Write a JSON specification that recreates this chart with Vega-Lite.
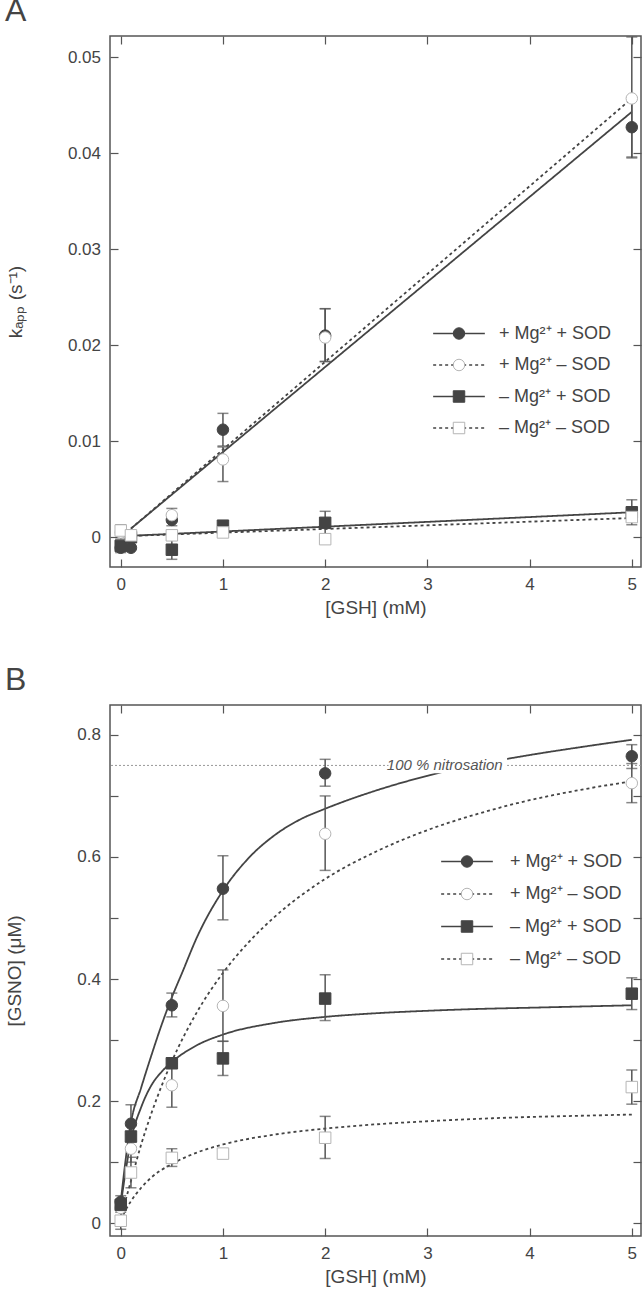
{
  "$schema": "https://vega.github.io/schema/vega-lite/v6.json",
  "background": "white",
  "padding": {"left": 4, "top": -6, "right": 2, "bottom": 4},
  "spacing": 45,
  "resolve": {
    "scale": {"strokeDash": "independent", "shape": "independent", "fill": "independent", "stroke": "independent"},
    "legend": {"strokeDash": "independent", "shape": "independent", "fill": "independent", "stroke": "independent"}
  },
  "config": {
    "font": "Liberation Sans",
    "view": {"stroke": "#555", "strokeWidth": 1.5},
    "axis": {"grid": false, "domain": false, "minExtent": 0, "tickColor": "#555", "tickWidth": 1.2, "tickSize": -8, "labelFontSize": 17, "labelColor": "#444", "titleFontSize": 19, "titleFontWeight": "normal", "titleColor": "#444", "labelFont": "Liberation Sans", "titleFont": "Liberation Sans"},
    "legend": {"labelFont": "Liberation Sans", "labelColor": "#444", "labelFontSize": 18}
  },
  "datasets": {
    "ptsA": [
      {"series": "+ Mg²⁺ + SOD", "x": 0, "y": -0.0011, "lo": -0.0016, "hi": -0.0006},
      {"series": "+ Mg²⁺ + SOD", "x": 0.1, "y": -0.0011},
      {"series": "+ Mg²⁺ + SOD", "x": 0.5, "y": 0.0018, "lo": 0.0012, "hi": 0.0024},
      {"series": "+ Mg²⁺ + SOD", "x": 1, "y": 0.0112, "lo": 0.0095, "hi": 0.0129},
      {"series": "+ Mg²⁺ + SOD", "x": 2, "y": 0.021, "lo": 0.0183, "hi": 0.0238},
      {"series": "+ Mg²⁺ + SOD", "x": 5, "y": 0.0427, "lo": 0.0396, "hi": 0.0458},
      {"series": "+ Mg²⁺ – SOD", "x": 0, "y": 0.0005},
      {"series": "+ Mg²⁺ – SOD", "x": 0.1, "y": 0.0001},
      {"series": "+ Mg²⁺ – SOD", "x": 0.5, "y": 0.0023, "lo": 0.0016, "hi": 0.003},
      {"series": "+ Mg²⁺ – SOD", "x": 1, "y": 0.0081, "lo": 0.0058, "hi": 0.0094},
      {"series": "+ Mg²⁺ – SOD", "x": 2, "y": 0.0208, "lo": 0.0183, "hi": 0.0238},
      {"series": "+ Mg²⁺ – SOD", "x": 5, "y": 0.0457, "lo": 0.0395, "hi": 0.0521},
      {"series": "– Mg²⁺ + SOD", "x": 0, "y": -0.0009},
      {"series": "– Mg²⁺ + SOD", "x": 0.1, "y": 0.0},
      {"series": "– Mg²⁺ + SOD", "x": 0.5, "y": -0.0013, "lo": -0.0023, "hi": -0.0003},
      {"series": "– Mg²⁺ + SOD", "x": 1, "y": 0.0012},
      {"series": "– Mg²⁺ + SOD", "x": 2, "y": 0.0015, "lo": 0.0003, "hi": 0.0027},
      {"series": "– Mg²⁺ + SOD", "x": 5, "y": 0.0026, "lo": 0.0013, "hi": 0.0039},
      {"series": "– Mg²⁺ – SOD", "x": 0, "y": 0.0007, "lo": -0.0002, "hi": 0.0013},
      {"series": "– Mg²⁺ – SOD", "x": 0.1, "y": 0.0002},
      {"series": "– Mg²⁺ – SOD", "x": 0.5, "y": 0.0002},
      {"series": "– Mg²⁺ – SOD", "x": 1, "y": 0.0005},
      {"series": "– Mg²⁺ – SOD", "x": 2, "y": -0.0002},
      {"series": "– Mg²⁺ – SOD", "x": 5, "y": 0.0021}
    ],
    "linesA": [
      {"series": "+ Mg²⁺ + SOD", "x": 0.1, "y": 0.0009},
      {"series": "+ Mg²⁺ + SOD", "x": 5, "y": 0.0443},
      {"series": "+ Mg²⁺ – SOD", "x": 0.1, "y": 0.0009},
      {"series": "+ Mg²⁺ – SOD", "x": 5, "y": 0.0457},
      {"series": "– Mg²⁺ + SOD", "x": 0, "y": 0.0001},
      {"series": "– Mg²⁺ + SOD", "x": 5, "y": 0.0026},
      {"series": "– Mg²⁺ – SOD", "x": 0, "y": 0.0001},
      {"series": "– Mg²⁺ – SOD", "x": 5, "y": 0.002}
    ],
    "ptsB": [
      {"series": "+ Mg²⁺ + SOD", "x": 0, "y": 0.035, "lo": 0.025, "hi": 0.045},
      {"series": "+ Mg²⁺ + SOD", "x": 0.1, "y": 0.163, "lo": 0.133, "hi": 0.194},
      {"series": "+ Mg²⁺ + SOD", "x": 0.5, "y": 0.357, "lo": 0.338, "hi": 0.377},
      {"series": "+ Mg²⁺ + SOD", "x": 1, "y": 0.548, "lo": 0.497, "hi": 0.602},
      {"series": "+ Mg²⁺ + SOD", "x": 2, "y": 0.737, "lo": 0.716, "hi": 0.76},
      {"series": "+ Mg²⁺ + SOD", "x": 5, "y": 0.765, "lo": 0.745, "hi": 0.784},
      {"series": "+ Mg²⁺ – SOD", "x": 0, "y": 0.025},
      {"series": "+ Mg²⁺ – SOD", "x": 0.1, "y": 0.122, "lo": 0.1, "hi": 0.145},
      {"series": "+ Mg²⁺ – SOD", "x": 0.5, "y": 0.226, "lo": 0.19, "hi": 0.262},
      {"series": "+ Mg²⁺ – SOD", "x": 1, "y": 0.356, "lo": 0.298, "hi": 0.415},
      {"series": "+ Mg²⁺ – SOD", "x": 2, "y": 0.638, "lo": 0.578, "hi": 0.7},
      {"series": "+ Mg²⁺ – SOD", "x": 5, "y": 0.721, "lo": 0.689, "hi": 0.753},
      {"series": "– Mg²⁺ + SOD", "x": 0, "y": 0.03},
      {"series": "– Mg²⁺ + SOD", "x": 0.1, "y": 0.142, "lo": 0.125, "hi": 0.16},
      {"series": "– Mg²⁺ + SOD", "x": 0.5, "y": 0.262},
      {"series": "– Mg²⁺ + SOD", "x": 1, "y": 0.27, "lo": 0.242, "hi": 0.298},
      {"series": "– Mg²⁺ + SOD", "x": 2, "y": 0.368, "lo": 0.332, "hi": 0.407},
      {"series": "– Mg²⁺ + SOD", "x": 5, "y": 0.376, "lo": 0.35, "hi": 0.402},
      {"series": "– Mg²⁺ – SOD", "x": 0, "y": 0.004, "lo": -0.01, "hi": 0.018},
      {"series": "– Mg²⁺ – SOD", "x": 0.1, "y": 0.083, "lo": 0.058, "hi": 0.108},
      {"series": "– Mg²⁺ – SOD", "x": 0.5, "y": 0.107, "lo": 0.093, "hi": 0.122},
      {"series": "– Mg²⁺ – SOD", "x": 1, "y": 0.114},
      {"series": "– Mg²⁺ – SOD", "x": 2, "y": 0.14, "lo": 0.106, "hi": 0.175},
      {"series": "– Mg²⁺ – SOD", "x": 5, "y": 0.223, "lo": 0.195, "hi": 0.251}
    ],
    "linesB": [
      {"series": "+ Mg²⁺ + SOD", "x": 0, "y": 0.035},
      {"series": "+ Mg²⁺ + SOD", "x": 0.1, "y": 0.165},
      {"series": "+ Mg²⁺ + SOD", "x": 0.2, "y": 0.222},
      {"series": "+ Mg²⁺ + SOD", "x": 0.3, "y": 0.275},
      {"series": "+ Mg²⁺ + SOD", "x": 0.4, "y": 0.325},
      {"series": "+ Mg²⁺ + SOD", "x": 0.5, "y": 0.37},
      {"series": "+ Mg²⁺ + SOD", "x": 0.6, "y": 0.41},
      {"series": "+ Mg²⁺ + SOD", "x": 0.75, "y": 0.47},
      {"series": "+ Mg²⁺ + SOD", "x": 1, "y": 0.545},
      {"series": "+ Mg²⁺ + SOD", "x": 1.25, "y": 0.598},
      {"series": "+ Mg²⁺ + SOD", "x": 1.5, "y": 0.635},
      {"series": "+ Mg²⁺ + SOD", "x": 1.75, "y": 0.661},
      {"series": "+ Mg²⁺ + SOD", "x": 2, "y": 0.679},
      {"series": "+ Mg²⁺ + SOD", "x": 2.5, "y": 0.709},
      {"series": "+ Mg²⁺ + SOD", "x": 3, "y": 0.733},
      {"series": "+ Mg²⁺ + SOD", "x": 3.5, "y": 0.752},
      {"series": "+ Mg²⁺ + SOD", "x": 4, "y": 0.767},
      {"series": "+ Mg²⁺ + SOD", "x": 4.5, "y": 0.78},
      {"series": "+ Mg²⁺ + SOD", "x": 5, "y": 0.792},
      {"series": "+ Mg²⁺ – SOD", "x": 0, "y": 0.01},
      {"series": "+ Mg²⁺ – SOD", "x": 0.1, "y": 0.069},
      {"series": "+ Mg²⁺ – SOD", "x": 0.2, "y": 0.129},
      {"series": "+ Mg²⁺ – SOD", "x": 0.3, "y": 0.18},
      {"series": "+ Mg²⁺ – SOD", "x": 0.4, "y": 0.225},
      {"series": "+ Mg²⁺ – SOD", "x": 0.5, "y": 0.265},
      {"series": "+ Mg²⁺ – SOD", "x": 0.75, "y": 0.347},
      {"series": "+ Mg²⁺ – SOD", "x": 1, "y": 0.41},
      {"series": "+ Mg²⁺ – SOD", "x": 1.25, "y": 0.46},
      {"series": "+ Mg²⁺ – SOD", "x": 1.5, "y": 0.501},
      {"series": "+ Mg²⁺ – SOD", "x": 2, "y": 0.564},
      {"series": "+ Mg²⁺ – SOD", "x": 2.5, "y": 0.609},
      {"series": "+ Mg²⁺ – SOD", "x": 3, "y": 0.644},
      {"series": "+ Mg²⁺ – SOD", "x": 3.5, "y": 0.671},
      {"series": "+ Mg²⁺ – SOD", "x": 4, "y": 0.693},
      {"series": "+ Mg²⁺ – SOD", "x": 4.5, "y": 0.71},
      {"series": "+ Mg²⁺ – SOD", "x": 5, "y": 0.724},
      {"series": "– Mg²⁺ + SOD", "x": 0, "y": 0.03},
      {"series": "– Mg²⁺ + SOD", "x": 0.05, "y": 0.087},
      {"series": "– Mg²⁺ + SOD", "x": 0.1, "y": 0.136},
      {"series": "– Mg²⁺ + SOD", "x": 0.2, "y": 0.19},
      {"series": "– Mg²⁺ + SOD", "x": 0.3, "y": 0.226},
      {"series": "– Mg²⁺ + SOD", "x": 0.4, "y": 0.248},
      {"series": "– Mg²⁺ + SOD", "x": 0.5, "y": 0.264},
      {"series": "– Mg²⁺ + SOD", "x": 0.75, "y": 0.292},
      {"series": "– Mg²⁺ + SOD", "x": 1, "y": 0.309},
      {"series": "– Mg²⁺ + SOD", "x": 1.5, "y": 0.328},
      {"series": "– Mg²⁺ + SOD", "x": 2, "y": 0.338},
      {"series": "– Mg²⁺ + SOD", "x": 2.5, "y": 0.344},
      {"series": "– Mg²⁺ + SOD", "x": 3, "y": 0.348},
      {"series": "– Mg²⁺ + SOD", "x": 3.5, "y": 0.351},
      {"series": "– Mg²⁺ + SOD", "x": 4, "y": 0.353},
      {"series": "– Mg²⁺ + SOD", "x": 4.5, "y": 0.355},
      {"series": "– Mg²⁺ + SOD", "x": 5, "y": 0.357},
      {"series": "– Mg²⁺ – SOD", "x": 0, "y": 0.005},
      {"series": "– Mg²⁺ – SOD", "x": 0.05, "y": 0.022},
      {"series": "– Mg²⁺ – SOD", "x": 0.1, "y": 0.036},
      {"series": "– Mg²⁺ – SOD", "x": 0.2, "y": 0.058},
      {"series": "– Mg²⁺ – SOD", "x": 0.3, "y": 0.075},
      {"series": "– Mg²⁺ – SOD", "x": 0.5, "y": 0.097},
      {"series": "– Mg²⁺ – SOD", "x": 0.75, "y": 0.116},
      {"series": "– Mg²⁺ – SOD", "x": 1, "y": 0.129},
      {"series": "– Mg²⁺ – SOD", "x": 1.5, "y": 0.145},
      {"series": "– Mg²⁺ – SOD", "x": 2, "y": 0.155},
      {"series": "– Mg²⁺ – SOD", "x": 2.5, "y": 0.162},
      {"series": "– Mg²⁺ – SOD", "x": 3, "y": 0.167},
      {"series": "– Mg²⁺ – SOD", "x": 3.5, "y": 0.171},
      {"series": "– Mg²⁺ – SOD", "x": 4, "y": 0.174},
      {"series": "– Mg²⁺ – SOD", "x": 4.5, "y": 0.176},
      {"series": "– Mg²⁺ – SOD", "x": 5, "y": 0.178}
    ]
  },
  "vconcat": [
    {
      "width": 531,
      "height": 531,
      "title": {"text": "A", "anchor": "start", "frame": "group", "dx": -105, "offset": -18, "baseline": "alphabetic", "fontSize": 32, "fontWeight": "normal", "color": "#444", "font": "Liberation Sans"},
      "layer": [
        {
          "data": {"name": "linesA"},
          "mark": {"type": "line", "color": "#444", "strokeWidth": 1.8},
          "encoding": {
            "x": {"field": "x", "type": "quantitative", "scale": {"domain": [-0.105, 5.09], "nice": false, "zero": false}, "axis": {"orient": "bottom", "values": [0, 1, 2, 3, 4, 5], "format": "~g", "title": "[GSH] (mM)", "labelPadding": 17, "titlePadding": 6}},
            "y": {"field": "y", "type": "quantitative", "scale": {"domain": [-0.0031, 0.0522], "nice": false, "zero": false}, "axis": {"orient": "left", "values": [0, 0.01, 0.02, 0.03, 0.04, 0.05], "format": "~g", "title": "kₐₚₚ (s⁻¹)", "labelPadding": 17.5, "titlePadding": 42}},
            "strokeDash": {"field": "series", "type": "nominal", "scale": {"range": [[1, 0], [3, 3], [1, 0], [3, 3]]}, "legend": {"orient": "none", "legendX": 340, "legendY": 288.5, "title": null, "symbolType": "M-4.5,0H4.5", "symbolSize": 132, "symbolStrokeColor": "#444", "symbolStrokeWidth": 1.5, "labelFontSize": 18, "rowPadding": 13.5, "labelOffset": 31}}
          }
        },
        {
          "data": {"name": "ptsA"},
          "transform": [{"filter": "isValid(datum.lo)"}],
          "mark": {"type": "errorbar", "ticks": true, "size": 11, "thickness": 1.5, "color": "#555"},
          "encoding": {
            "x": {"field": "x", "type": "quantitative", "scale": {"domain": [-0.105, 5.09], "nice": false, "zero": false}, "axis": null},
            "y": {"field": "lo", "type": "quantitative", "scale": {"domain": [-0.0031, 0.0522], "nice": false, "zero": false}, "axis": null},
            "y2": {"field": "hi"}
          }
        },
        {
          "data": {"name": "ptsA"},
          "mark": {"type": "point", "filled": true, "size": 132, "strokeWidth": 1, "opacity": 1},
          "encoding": {
            "x": {"field": "x", "type": "quantitative", "scale": {"domain": [-0.105, 5.09], "nice": false, "zero": false}, "axis": {"orient": "top", "values": [0, 1, 2, 3, 4, 5], "labels": false, "title": null, "minExtent": 0, "maxExtent": 0}},
            "y": {"field": "y", "type": "quantitative", "scale": {"domain": [-0.0031, 0.0522], "nice": false, "zero": false}, "axis": {"orient": "right", "values": [0, 0.01, 0.02, 0.03, 0.04, 0.05], "labels": false, "title": null, "minExtent": 0, "maxExtent": 0}},
            "shape": {"field": "series", "type": "nominal", "scale": {"range": ["circle", "circle", "square", "square"]}, "legend": {"orient": "none", "legendX": 340, "legendY": 288.5, "title": null, "labelOpacity": 0, "symbolSize": 132, "labelFontSize": 18, "rowPadding": 13.5, "labelOffset": 31, "symbolStrokeWidth": 1}},
            "fill": {"field": "series", "type": "nominal", "scale": {"range": ["#444444", "#ffffff", "#444444", "#ffffff"]}, "legend": {"orient": "none", "legendX": 340, "legendY": 288.5, "title": null, "labelOpacity": 0, "symbolSize": 132, "labelFontSize": 18, "rowPadding": 13.5, "labelOffset": 31, "symbolStrokeWidth": 1}},
            "stroke": {"field": "series", "type": "nominal", "scale": {"range": ["#444444", "#b5b5b5", "#444444", "#b5b5b5"]}, "legend": {"orient": "none", "legendX": 340, "legendY": 288.5, "title": null, "labelOpacity": 0, "symbolSize": 132, "labelFontSize": 18, "rowPadding": 13.5, "labelOffset": 31, "symbolStrokeWidth": 1}}
          }
        }
      ],
      "resolve": {"axis": {"x": "independent", "y": "independent"}}
    },
    {
      "width": 531,
      "height": 531,
      "title": {"text": "B", "anchor": "start", "frame": "group", "dx": -105, "offset": -18, "baseline": "alphabetic", "fontSize": 32, "fontWeight": "normal", "color": "#444", "font": "Liberation Sans"},
      "layer": [
        {
          "data": {"name": "linesB"},
          "mark": {"type": "line", "color": "#444", "strokeWidth": 1.8, "interpolate": "monotone"},
          "encoding": {
            "x": {"field": "x", "type": "quantitative", "scale": {"domain": [-0.105, 5.09], "nice": false, "zero": false}, "axis": {"orient": "bottom", "values": [0, 1, 2, 3, 4, 5], "format": "~g", "title": "[GSH] (mM)", "labelPadding": 17, "titlePadding": 6}},
            "y": {"field": "y", "type": "quantitative", "scale": {"domain": [-0.021, 0.849], "nice": false, "zero": false}, "axis": {"orient": "left", "values": [0, 0.1, 0.2, 0.3, 0.4, 0.5, 0.6, 0.7, 0.8], "labelExpr": "round(datum.value*10) % 2 == 0 ? format(datum.value, '~g') : ''", "title": "[GSNO] (μM)", "labelPadding": 17.5, "titlePadding": 52}},
            "strokeDash": {"field": "series", "type": "nominal", "scale": {"range": [[1, 0], [3, 3], [1, 0], [3, 3]]}, "legend": {"orient": "none", "legendX": 348, "legendY": 147.5, "title": null, "symbolType": "M-4.5,0H4.5", "symbolSize": 132, "symbolStrokeColor": "#444", "symbolStrokeWidth": 1.5, "labelFontSize": 18, "rowPadding": 14.5, "labelOffset": 34}}
          }
        },
        {
          "data": {"values": [{}]},
          "mark": {"type": "rule", "color": "#999", "strokeWidth": 1, "strokeDash": [2, 2]},
          "encoding": {
            "y": {"datum": 0.75, "type": "quantitative", "scale": {"domain": [-0.021, 0.849], "nice": false, "zero": false}, "axis": null}
          }
        },
        {
          "data": {"values": [{}]},
          "mark": {"type": "rect", "color": "white", "opacity": 1},
          "encoding": {
            "x": {"datum": 2.62, "type": "quantitative", "scale": {"domain": [-0.105, 5.09], "nice": false, "zero": false}, "axis": null},
            "x2": {"datum": 3.78},
            "y": {"datum": 0.737, "type": "quantitative", "scale": {"domain": [-0.021, 0.849], "nice": false, "zero": false}, "axis": null},
            "y2": {"datum": 0.765}
          }
        },
        {
          "data": {"values": [{}]},
          "mark": {"type": "text", "text": "100 % nitrosation", "fontStyle": "italic", "fontSize": 15, "color": "#555", "align": "center", "baseline": "middle"},
          "encoding": {
            "x": {"datum": 3.17, "type": "quantitative", "scale": {"domain": [-0.105, 5.09], "nice": false, "zero": false}, "axis": null},
            "y": {"datum": 0.751, "type": "quantitative", "scale": {"domain": [-0.021, 0.849], "nice": false, "zero": false}, "axis": null}
          }
        },
        {
          "data": {"name": "ptsB"},
          "transform": [{"filter": "isValid(datum.lo)"}],
          "mark": {"type": "errorbar", "ticks": true, "size": 11, "thickness": 1.5, "color": "#555"},
          "encoding": {
            "x": {"field": "x", "type": "quantitative", "scale": {"domain": [-0.105, 5.09], "nice": false, "zero": false}, "axis": null},
            "y": {"field": "lo", "type": "quantitative", "scale": {"domain": [-0.021, 0.849], "nice": false, "zero": false}, "axis": null},
            "y2": {"field": "hi"}
          }
        },
        {
          "data": {"name": "ptsB"},
          "mark": {"type": "point", "filled": true, "size": 132, "strokeWidth": 1, "opacity": 1},
          "encoding": {
            "x": {"field": "x", "type": "quantitative", "scale": {"domain": [-0.105, 5.09], "nice": false, "zero": false}, "axis": {"orient": "top", "values": [0, 1, 2, 3, 4, 5], "labels": false, "title": null, "minExtent": 0, "maxExtent": 0}},
            "y": {"field": "y", "type": "quantitative", "scale": {"domain": [-0.021, 0.849], "nice": false, "zero": false}, "axis": {"orient": "right", "values": [0, 0.1, 0.2, 0.3, 0.4, 0.5, 0.6, 0.7, 0.8], "labels": false, "title": null, "minExtent": 0, "maxExtent": 0}},
            "shape": {"field": "series", "type": "nominal", "scale": {"range": ["circle", "circle", "square", "square"]}, "legend": {"orient": "none", "legendX": 348, "legendY": 147.5, "title": null, "labelOpacity": 0, "symbolSize": 132, "labelFontSize": 18, "rowPadding": 14.5, "labelOffset": 34, "symbolStrokeWidth": 1}},
            "fill": {"field": "series", "type": "nominal", "scale": {"range": ["#444444", "#ffffff", "#444444", "#ffffff"]}, "legend": {"orient": "none", "legendX": 348, "legendY": 147.5, "title": null, "labelOpacity": 0, "symbolSize": 132, "labelFontSize": 18, "rowPadding": 14.5, "labelOffset": 34, "symbolStrokeWidth": 1}},
            "stroke": {"field": "series", "type": "nominal", "scale": {"range": ["#444444", "#b5b5b5", "#444444", "#b5b5b5"]}, "legend": {"orient": "none", "legendX": 348, "legendY": 147.5, "title": null, "labelOpacity": 0, "symbolSize": 132, "labelFontSize": 18, "rowPadding": 14.5, "labelOffset": 34, "symbolStrokeWidth": 1}}
          }
        }
      ],
      "resolve": {"axis": {"x": "independent", "y": "independent"}}
    }
  ]
}
